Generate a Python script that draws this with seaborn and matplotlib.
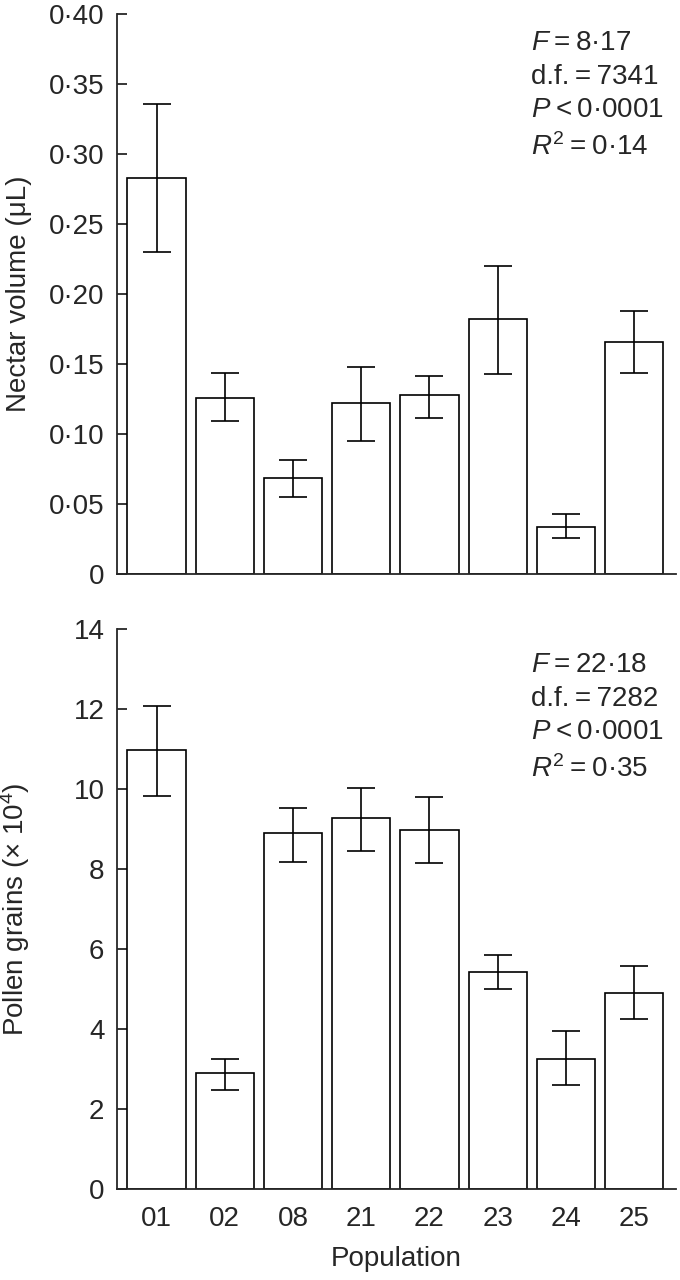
import matplotlib
matplotlib.use('Agg')
import matplotlib.pyplot as plt
import seaborn as sns
import pandas as pd

# population codes (x categories)
populations = ['01', '02', '08', '21', '22', '23', '24', '25']

# nectar volume (uL): mean, lower and upper end of error bar
nectar_mean = [0.283, 0.1255, 0.0688, 0.122, 0.128, 0.182, 0.0338, 0.1655]
nectar_low = [0.230, 0.1095, 0.055, 0.095, 0.1112, 0.143, 0.026, 0.1433]
nectar_high = [0.3355, 0.1433, 0.0814, 0.148, 0.1414, 0.220, 0.0426, 0.188]

# pollen grains (x 10^4): mean, lower and upper end of error bar
pollen_mean = [10.97, 2.90, 8.89, 9.27, 8.98, 5.42, 3.25, 4.89]
pollen_low = [9.83, 2.47, 8.18, 8.46, 8.14, 5.01, 2.60, 4.24]
pollen_high = [12.07, 3.25, 9.53, 10.03, 9.81, 5.85, 3.94, 5.57]

nectar_ticks = [0, 0.05, 0.10, 0.15, 0.20, 0.25, 0.30, 0.35, 0.40]
nectar_ticklabels = ['0', '0·05', '0·10', '0·15', '0·20', '0·25', '0·30', '0·35', '0·40']
pollen_ticks = [0, 2, 4, 6, 8, 10, 12, 14]

nectar_stats = [r'$F$' + '\u2009=\u20098·17', 'd.f.\u2009=\u20097341',
                r'$P$' + '\u2009<\u20090·0001', r'$R^2$' + '\u2009=\u20090·14']
pollen_stats = [r'$F$' + '\u2009=\u200922·18', 'd.f.\u2009=\u20097282',
                r'$P$' + '\u2009<\u20090·0001', r'$R^2$' + '\u2009=\u20090·35']

sns.set_style('ticks')
plt.rcParams['font.family'] = ['Liberation Sans', 'DejaVu Sans']
plt.rcParams['mathtext.fontset'] = 'custom'
plt.rcParams['mathtext.rm'] = 'Liberation Sans'
plt.rcParams['mathtext.it'] = 'Liberation Sans:italic'
plt.rcParams['axes.linewidth'] = 1.3

FS = 20

fig = plt.figure(figsize=(6.8, 12.8), dpi=100)
ax1 = fig.add_axes([117 / 680, 1 - 574 / 1280, 559 / 680, 560 / 1280])
ax2 = fig.add_axes([117 / 680, 1 - 1189 / 1280, 559 / 680, 560 / 1280])


def draw_panel(ax, mean, low, high, ticks, ticklabels, ylabel, stats, text_y):
    df = pd.DataFrame({'Population': populations, 'value': mean})
    sns.barplot(data=df, x='Population', y='value', order=populations, ax=ax,
                color='white', edgecolor='black', linewidth=1.2, width=0.855,
                saturation=1, errorbar=None)
    yerr = [[m - l for m, l in zip(mean, low)], [h - m for m, h in zip(mean, high)]]
    ax.errorbar(range(len(populations)), mean, yerr=yerr, fmt='none',
                ecolor='black', elinewidth=1.2, capsize=10, capthick=1.2)
    ax.set_xlim(-0.579, 7.613)
    ax.set_ylim(ticks[0], ticks[-1])
    ax.set_yticks(ticks)
    ax.set_yticklabels(ticklabels)
    ax.tick_params(axis='y', direction='in', length=7.5, width=1.3, pad=9, labelsize=FS)
    ax.tick_params(axis='x', length=0, labelsize=FS, pad=12)
    sns.despine(ax=ax)
    ax.set_ylabel(ylabel, fontsize=FS)
    ax.yaxis.set_label_coords(-0.152, 0.5)
    for s, y in zip(stats, text_y):
        ax.text(0.74, y, s, transform=ax.transAxes, fontsize=FS, va='baseline', ha='left')


draw_panel(ax1, nectar_mean, nectar_low, nectar_high, nectar_ticks, nectar_ticklabels,
           'Nectar volume (μL)', nectar_stats, [0.935, 0.875, 0.8155, 0.748])
draw_panel(ax2, pollen_mean, pollen_low, pollen_high, pollen_ticks,
           [str(t) for t in pollen_ticks], r'Pollen grains ($\times$ 10$^4$)',
           pollen_stats, [0.923, 0.8625, 0.803, 0.736])

ax1.set_xticklabels([])
ax1.set_xlabel('')
ax2.set_xlabel('Population', fontsize=FS, labelpad=10)

fig.savefig('out.png', dpi=100)
